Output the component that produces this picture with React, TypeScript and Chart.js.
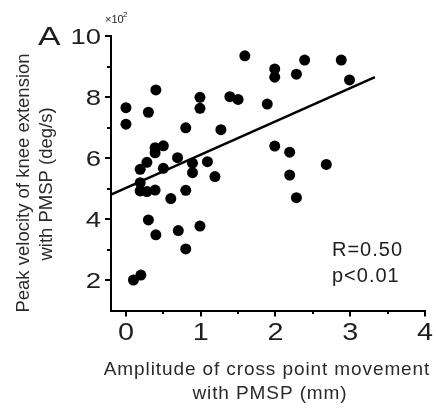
import React, { useEffect, useRef } from 'react';
import { Chart, registerables } from 'chart.js';

Chart.register(...registerables);

// Amplitude of cross point movement with PMSP (mm)
const amplitude = [
  0.0, 0.0, 0.3, 0.4, 0.99, 0.99, 0.8, 0.5, 0.39, 0.39, 0.28, 0.19, 0.5, 0.69, 0.89, 0.89,
  1.09, 1.19, 1.27, 0.19, 0.19, 0.28, 0.39, 0.6, 0.8, 0.3, 0.4, 0.7, 0.99, 0.8, 0.1, 0.2,
  1.59, 1.99, 1.99, 2.39, 2.28, 2.88, 2.99, 1.39, 1.5, 1.89, 1.99, 2.19, 2.19, 2.68, 2.28,
];
// Peak velocity of knee extension with PMSP (x10^2 deg/s)
const velocity = [
  7.65, 7.11, 7.5, 8.23, 7.99, 7.63, 6.99, 6.4, 6.34, 6.17, 5.86, 5.63, 5.66, 6.01, 5.83, 5.52,
  5.88, 5.39, 6.93, 5.19, 4.92, 4.9, 4.95, 4.67, 4.94, 3.97, 3.48, 3.62, 3.77, 3.02, 2.0, 2.16,
  9.35, 8.92, 8.65, 9.21, 8.75, 9.21, 8.56, 8.01, 7.92, 7.77, 6.39, 6.19, 5.44, 5.79, 4.7,
];
// Regression line end points
const fitX = [-0.2, 3.33];
const fitY = [4.8, 8.65];

const xMajorTicks = [0, 1, 2, 3, 4];
const xMinorTicks = [0.5, 1.5, 2.5, 3.5];
const yMajorTicks = [2, 4, 6, 8, 10];
const yMinorTicks = [3, 5, 7, 9];
const xLabels = ['0', '1', '2', '3', '4'];
const yLabels = ['2', '4', '6', '8', '10'];

const xTitle = ['Amplitude of cross point movement', 'with PMSP (mm)'];
const yTitle = ['Peak velocity of knee extension', 'with PMSP (deg/s)'];
const statsLines = ['R=0.50', 'p<0.01'];
const panelLabel = 'A';
const multiplierBase = '\u00d710';
const multiplierExp = '2';

const FONT = '"Liberation Sans", Arial, sans-serif';
const TEXT = '#1e1e1e';

const decorPlugin = {
  id: 'decor',
  afterDraw(chart: any) {
    const ctx = chart.ctx as CanvasRenderingContext2D;
    const xs = chart.scales.x;
    const ys = chart.scales.y;
    const ca = chart.chartArea;
    ctx.save();
    ctx.strokeStyle = '#000';
    ctx.lineWidth = 2;
    const seg = (x1: number, y1: number, x2: number, y2: number) => {
      ctx.beginPath();
      ctx.moveTo(x1, y1);
      ctx.lineTo(x2, y2);
      ctx.stroke();
    };
    xMajorTicks.forEach((v) => {
      const p = Math.round(xs.getPixelForValue(v));
      seg(p, ca.bottom, p, ca.bottom + 6);
    });
    xMinorTicks.forEach((v) => {
      const p = Math.round(xs.getPixelForValue(v));
      seg(p, ca.bottom, p, ca.bottom + 3.5);
    });
    yMajorTicks.forEach((v) => {
      const p = Math.round(ys.getPixelForValue(v));
      seg(ca.left - 6, p, ca.left, p);
    });
    yMinorTicks.forEach((v) => {
      const p = Math.round(ys.getPixelForValue(v));
      seg(ca.left - 4, p, ca.left, p);
    });

    ctx.fillStyle = TEXT;
    // y tick labels
    ctx.font = `22px ${FONT}`;
    ctx.textAlign = 'right';
    ctx.textBaseline = 'alphabetic';
    yMajorTicks.forEach((v, i) => {
      const p = ys.getPixelForValue(v);
      ctx.save();
      ctx.translate(ca.left - 10, p + 8);
      ctx.scale(1.25, 1);
      ctx.fillText(yLabels[i], 0, 0);
      ctx.restore();
    });
    // x tick labels
    ctx.font = `24px ${FONT}`;
    ctx.textAlign = 'center';
    xMajorTicks.forEach((v, i) => {
      const p = xs.getPixelForValue(v);
      ctx.save();
      ctx.translate(p, ca.bottom + 29);
      ctx.scale(1.2, 1);
      ctx.fillText(xLabels[i], 0, 0);
      ctx.restore();
    });

    // multiplier
    ctx.textAlign = 'left';
    ctx.font = `11px ${FONT}`;
    ctx.fillText(multiplierBase, 105, 23);
    ctx.font = `8px ${FONT}`;
    ctx.fillText(multiplierExp, 123, 17);

    // panel label
    ctx.save();
    ctx.font = `26px ${FONT}`;
    ctx.translate(38, 45);
    ctx.scale(1.3, 1);
    ctx.fillText(panelLabel, 0, 0);
    ctx.restore();

    // stats
    ctx.font = `20px ${FONT}`;
    (ctx as any).letterSpacing = '1px';
    ctx.fillText(statsLines[0], 332, 256);
    ctx.fillText(statsLines[1], 332, 282);

    // x title
    ctx.textAlign = 'center';
    ctx.font = `19px ${FONT}`;
    (ctx as any).letterSpacing = '0.9px';
    ctx.fillStyle = '#2a2a2a';
    ctx.fillText(xTitle[0], 267, 375);
    ctx.fillText(xTitle[1], 270, 399);

    // y title
    (ctx as any).letterSpacing = '0px';
    ctx.font = `18.5px ${FONT}`;
    ctx.save();
    ctx.translate(28.5, 183);
    ctx.rotate(-Math.PI / 2);
    ctx.fillText(yTitle[0], 0, 0);
    ctx.restore();
    ctx.save();
    ctx.translate(52, 184);
    ctx.rotate(-Math.PI / 2);
    ctx.fillText(yTitle[1], 0, 0);
    ctx.restore();

    ctx.restore();
  },
};

export default function App() {
  const canvasRef = useRef<HTMLCanvasElement | null>(null);

  useEffect(() => {
    const canvas = canvasRef.current;
    if (!canvas) return;
    const points = amplitude.map((x, i) => ({ x, y: velocity[i] }));
    const fit = fitX.map((x, i) => ({ x, y: fitY[i] }));
    const chart = new Chart(canvas, {
      type: 'scatter',
      data: {
        datasets: [
          {
            data: points,
            pointRadius: 5.5,
            pointHoverRadius: 5.5,
            pointBackgroundColor: '#000',
            pointBorderWidth: 0,
            backgroundColor: '#000',
            borderColor: '#000',
          } as any,
          {
            type: 'line',
            data: fit,
            showLine: true,
            borderColor: '#000',
            borderWidth: 2.5,
            pointRadius: 0,
            fill: false,
          } as any,
        ],
      },
      options: {
        responsive: false,
        animation: false,
        devicePixelRatio: 1,
        events: [],
        layout: { padding: { left: 0, top: 36, right: 11, bottom: 0 } },
        plugins: { legend: { display: false }, tooltip: { enabled: false } },
        scales: {
          x: {
            type: 'linear',
            min: -0.2,
            max: 4,
            ticks: { display: false },
            grid: { display: true, drawOnChartArea: false, drawTicks: false },
            border: { display: true, color: '#000', width: 2 },
            afterFit: (s: any) => {
              s.height = 99.5;
            },
          },
          y: {
            type: 'linear',
            min: 1,
            max: 10,
            ticks: { display: false },
            grid: { display: true, drawOnChartArea: false, drawTicks: false },
            border: { display: true, color: '#000', width: 2 },
            afterFit: (s: any) => {
              s.width = 111;
            },
          },
        },
      },
      plugins: [decorPlugin],
    });
    return () => chart.destroy();
  }, []);

  return (
    <div style={{ position: 'absolute', left: 0, top: 0, width: 436, height: 410, background: '#fff' }}>
      <canvas ref={canvasRef} width={436} height={410} style={{ display: 'block' }} />
    </div>
  );
}
